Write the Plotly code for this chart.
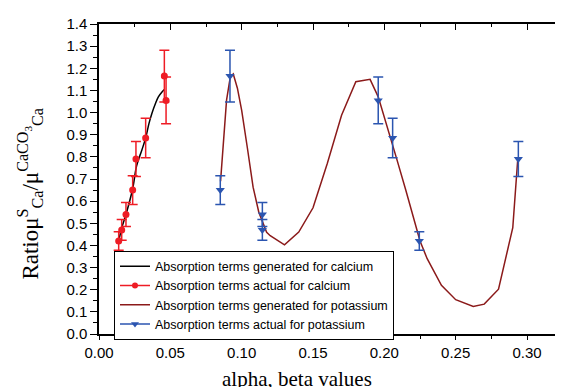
import plotly.graph_objects as go

# ---- data ----
ca_gen_x = [0.0136, 0.0160, 0.0190, 0.0236, 0.0264, 0.0300, 0.0327, 0.0350, 0.0370, 0.0395, 0.0416, 0.0440, 0.0458]
ca_gen_y = [0.414, 0.480, 0.542, 0.656, 0.761, 0.830, 0.885, 0.950, 0.995, 1.040, 1.071, 1.092, 1.104]

ca_act_x = [0.0138, 0.0159, 0.0189, 0.0236, 0.0259, 0.0327, 0.0458, 0.0470]
ca_act_y = [0.42, 0.47, 0.54, 0.65, 0.79, 0.885, 1.165, 1.055]
ca_act_err = [0.042, 0.047, 0.054, 0.065, 0.079, 0.089, 0.117, 0.106]

k_gen_x = [0.0852, 0.0875, 0.0894, 0.0920, 0.0941, 0.0970, 0.1000, 0.1040, 0.1080, 0.1120,
           0.1175, 0.1200, 0.1300, 0.1400, 0.1500, 0.1600, 0.1700, 0.1800, 0.1900, 0.1957,
           0.2000, 0.2086, 0.2150, 0.2200, 0.2250, 0.2300, 0.2400, 0.2500, 0.2623, 0.2700,
           0.2800, 0.2900, 0.2935]
k_gen_y = [0.69, 0.90, 1.056, 1.16, 1.174, 1.11, 1.01, 0.84, 0.663, 0.55,
           0.459, 0.444, 0.403, 0.46, 0.57, 0.77, 0.988, 1.139, 1.15, 1.071,
           0.98, 0.792, 0.65, 0.53, 0.42, 0.34, 0.22, 0.155, 0.124, 0.135,
           0.2025, 0.48, 0.79]

k_act_x = [0.0850, 0.0918, 0.1145, 0.1145, 0.1957, 0.2058, 0.2245, 0.2939]
k_act_y = [0.65, 1.165, 0.54, 0.47, 1.055, 0.885, 0.42, 0.79]
k_act_err = [0.065, 0.117, 0.054, 0.047, 0.106, 0.089, 0.042, 0.079]

names = ["Absorption terms generated for calcium",
         "Absorption terms actual for calcium",
         "Absorption terms generated for potassium",
         "Absorption terms actual for potassium"]

RED = "#ee1c25"
BLUE = "#2b55b0"
MAROON = "#8b1a1a"

fig = go.Figure()

fig.add_trace(go.Scatter(x=ca_gen_x, y=ca_gen_y, mode="lines", name=names[0],
                         line=dict(color="black", width=1.5, shape="spline")))
fig.add_trace(go.Scatter(x=[None], y=[None], mode="lines+markers", name=names[1],
                         line=dict(color=RED, width=1.5),
                         marker=dict(symbol="circle", size=6, color=RED)))
fig.add_trace(go.Scatter(x=k_gen_x, y=k_gen_y, mode="lines", name=names[2],
                         line=dict(color=MAROON, width=1.5)))
fig.add_trace(go.Scatter(x=[None], y=[None], mode="lines+markers", name=names[3],
                         line=dict(color=BLUE, width=1.5),
                         marker=dict(symbol="triangle-down", size=7, color=BLUE)))

fig.add_trace(go.Scatter(x=ca_act_x, y=ca_act_y, mode="markers", showlegend=False,
                         marker=dict(symbol="circle", size=7, color=RED),
                         error_y=dict(type="data", array=ca_act_err, color=RED,
                                      thickness=1.5, width=5)))
fig.add_trace(go.Scatter(x=k_act_x, y=k_act_y, mode="markers", showlegend=False,
                         marker=dict(symbol="triangle-down", size=8, color=BLUE),
                         error_y=dict(type="data", array=k_act_err, color=BLUE,
                                      thickness=1.5, width=5)))
fig.add_trace(go.Scatter(x=[None], y=[None], xaxis="x2", yaxis="y2", showlegend=False,
                         hoverinfo="skip"))

XR = [0, 0.3245]
YR = [0, 1.4]
tickfont = dict(family="Liberation Sans, Arial", size=15, color="black")

# page body has an 8px margin: figure is shifted by 8px, so shrink canvas accordingly
fig.update_layout(
    width=555, height=379, autosize=False,
    margin=dict(l=91, r=1, t=16, b=53),
    plot_bgcolor="white", paper_bgcolor="white",
    showlegend=True,
    legend=dict(x=0.0324, y=0.2686, xanchor="left", yanchor="top",
                bordercolor="black", borderwidth=1, bgcolor="white",
                font=dict(family="Liberation Sans, Arial", size=12.5, color="black"),
                tracegroupgap=0, itemwidth=30),
    xaxis=dict(range=XR, showgrid=False, zeroline=False, showline=True,
               linecolor="black", linewidth=1.5, ticks="outside", ticklen=4,
               tickwidth=1.2, tickcolor="black", dtick=0.05, tick0=0,
               tickformat=".2f", tickfont=tickfont,
               minor=dict(dtick=0.025, ticks="outside", ticklen=3, tickcolor="black",
                          tickwidth=1.2)),
    yaxis=dict(range=YR, showgrid=False, zeroline=False, showline=True,
               linecolor="black", linewidth=1.5, ticks="outside", ticklen=7,
               tickwidth=1.2, tickcolor="black", dtick=0.1, tick0=0,
               tickformat=".1f", tickfont=tickfont,
               minor=dict(dtick=0.05, ticks="outside", ticklen=4, tickcolor="black",
                          tickwidth=1.2)),
    xaxis2=dict(range=XR, overlaying="x", side="top", showgrid=False, zeroline=False,
                showline=True, linecolor="black", linewidth=1.5, ticks="inside",
                ticklen=6, tickwidth=1.2, tickcolor="black", dtick=0.05, tick0=0,
                showticklabels=False,
                minor=dict(dtick=0.025, ticks="inside", ticklen=3, tickcolor="black",
                           tickwidth=1.2)),
    yaxis2=dict(range=YR, overlaying="y", side="right", showgrid=False, zeroline=False,
                showline=True, linecolor="black", linewidth=1.5, ticks="inside",
                ticklen=7, tickwidth=1.2, tickcolor="black", dtick=0.1, tick0=0,
                showticklabels=False,
                minor=dict(dtick=0.05, ticks="inside", ticklen=3, tickcolor="black",
                           tickwidth=1.2)),
)

fig.add_annotation(text="Ratioμ<sup>S</sup><sub>Ca</sub>/μ<sup>CaCO<sub>3</sub></sup><sub>Ca</sub>",
                   xref="paper", yref="paper", x=-0.149, y=0.453,
                   xanchor="center", yanchor="middle", textangle=-90, showarrow=False,
                   font=dict(family="Liberation Serif, Times New Roman", size=23, color="black"))
fig.add_annotation(text="alpha, beta values",
                   xref="paper", yref="paper", x=0.4276, y=-0.145,
                   xanchor="center", yanchor="middle", showarrow=False,
                   font=dict(family="Liberation Serif, Times New Roman", size=21, color="black"))

fig.write_html("out.html")
